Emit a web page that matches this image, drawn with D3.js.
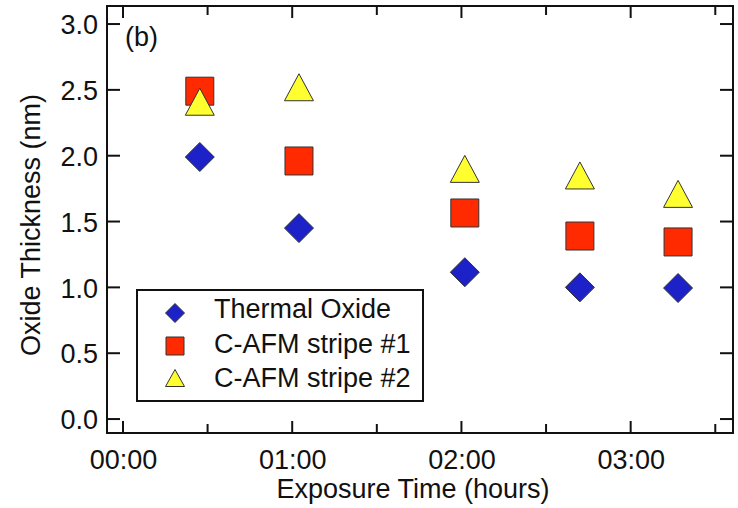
<!DOCTYPE html>
<html>
<head>
<meta charset="utf-8">
<script src="https://cdn.jsdelivr.net/npm/d3@7/dist/d3.min.js"></script>
<style>
  html, body { margin: 0; padding: 0; background: #fff; }
  svg { display: block; font-family: "Liberation Sans", Arial, Helvetica, sans-serif; }
</style>
</head>
<body>
<svg id="chart" width="738" height="508"></svg>
<script>
// ---- data ----
const timesHours = [0.454, 1.04, 2.02, 2.70, 3.28];
const thermalOxide = [1.99, 1.45, 1.115, 1.00, 0.995];
const stripe1 = [2.49, 1.96, 1.565, 1.39, 1.345];
const stripe2 = [2.41, 2.52, 1.90, 1.85, 1.71];
const seriesNames = ["Thermal Oxide", "C-AFM stripe #1", "C-AFM stripe #2"];
const yTicks = [0.0, 0.5, 1.0, 1.5, 2.0, 2.5, 3.0];
const xTicks = [0, 0.5, 1, 1.5, 2, 2.5, 3, 3.5];
const xTickLabels = ["00:00", "", "01:00", "", "02:00", "", "03:00", ""];

// ---- layout ----
const svg = d3.select("#chart");
const L = 107, R = 733, T = 6, B = 433;
const x = d3.scaleLinear().domain([-0.0944, 3.6047]).range([L, R]);
const y = d3.scaleLinear().domain([-0.106, 3.137]).range([B, T]);

const colors = { diamond: "#1c22c8", square: "#ff2a00", triangle: "#ffff30" };
const strokeCol = "#333";
const fontSize = 27;
const sx = 1.04; // slight horizontal stretch seen in the reference text

function diamondPath(cx, cy, r) {
  return `M${cx},${cy - r}L${cx + r},${cy}L${cx},${cy + r}L${cx - r},${cy}Z`;
}
function squarePath(cx, cy, s) {
  const h = s / 2;
  return `M${cx - h},${cy - h}h${s}v${s}h${-s}Z`;
}
function trianglePath(cx, cy, w, h) {
  return `M${cx},${cy - h / 2}L${cx + w / 2},${cy + h / 2}L${cx - w / 2},${cy + h / 2}Z`;
}

// ---- axes (ticks inside, mirrored) ----
const axisBottom = d3.axisBottom(x).tickValues(xTicks).tickSize(0).tickFormat((d, i) => xTickLabels[i]);
const gx = svg.append("g").attr("transform", `translate(0,${B})`).call(axisBottom);
gx.select(".domain").remove();
gx.selectAll("text").attr("font-size", fontSize).attr("fill", "#111").attr("dy", null).attr("y", 36)
  .attr("font-family", "Liberation Sans, Arial, sans-serif");

const axisLeft = d3.axisLeft(y).tickValues(yTicks).tickSize(0).tickFormat(d3.format(".1f"));
const gy = svg.append("g").attr("transform", `translate(${L},0)`).call(axisLeft);
gy.select(".domain").remove();
gy.selectAll("text").attr("font-size", fontSize).attr("fill", "#111").attr("x", -9).attr("dy", "0.36em")
  .attr("font-family", "Liberation Sans, Arial, sans-serif");

const tickG = svg.append("g").attr("stroke", "#111").attr("stroke-width", 2);
xTicks.forEach((t, i) => {
  const len = xTickLabels[i] ? 12 : 9;
  tickG.append("line").attr("x1", x(t)).attr("x2", x(t)).attr("y1", B).attr("y2", B - len);
  tickG.append("line").attr("x1", x(t)).attr("x2", x(t)).attr("y1", T).attr("y2", T + len);
});
yTicks.forEach(t => {
  tickG.append("line").attr("x1", L).attr("x2", L + 13).attr("y1", y(t)).attr("y2", y(t));
  tickG.append("line").attr("x1", R).attr("x2", R - 13).attr("y1", y(t)).attr("y2", y(t));
});

svg.append("rect").attr("x", L).attr("y", T).attr("width", R - L).attr("height", B - T)
  .attr("fill", "none").attr("stroke", "#111").attr("stroke-width", 2);

// ---- axis titles ----
svg.append("text").attr("x", 413).attr("y", 498).attr("text-anchor", "middle")
  .attr("font-size", fontSize).attr("fill", "#111").text("Exposure Time (hours)");
svg.append("text").attr("transform", "translate(40,225) rotate(-90)").attr("text-anchor", "middle")
  .attr("font-size", fontSize).attr("fill", "#111").text("Oxide Thickness (nm)");
svg.append("text").attr("x", 125).attr("y", 46).attr("font-size", fontSize).attr("fill", "#111").text("(b)");

// ---- markers ----
const mk = svg.append("g").attr("stroke", strokeCol).attr("stroke-width", 1);
timesHours.forEach((t, i) => {
  mk.append("path").attr("d", diamondPath(x(t), y(thermalOxide[i]), 14.5)).attr("fill", colors.diamond);
});
timesHours.forEach((t, i) => {
  mk.append("path").attr("d", squarePath(x(t), y(stripe1[i]), 28)).attr("fill", colors.square);
});
timesHours.forEach((t, i) => {
  mk.append("path").attr("d", trianglePath(x(t), y(stripe2[i]), 29, 27)).attr("fill", colors.triangle);
});

// ---- legend ----
const lg = svg.append("g");
lg.append("rect").attr("x", 137).attr("y", 290).attr("width", 286).attr("height", 111)
  .attr("fill", "#fff").attr("stroke", "#111").attr("stroke-width", 2);
const legY = [313, 346, 378];
lg.append("path").attr("d", diamondPath(175, legY[0], 9.5)).attr("fill", colors.diamond).attr("stroke", strokeCol);
lg.append("path").attr("d", squarePath(175, legY[1], 18)).attr("fill", colors.square).attr("stroke", strokeCol);
lg.append("path").attr("d", trianglePath(175, legY[2], 19, 17)).attr("fill", colors.triangle).attr("stroke", strokeCol);
seriesNames.forEach((n, i) => {
  lg.append("text").attr("x", 214).attr("y", [318, 353, 387][i]).attr("font-size", fontSize)
    .attr("fill", "#111").text(n);
});
</script>
</body>
</html>
